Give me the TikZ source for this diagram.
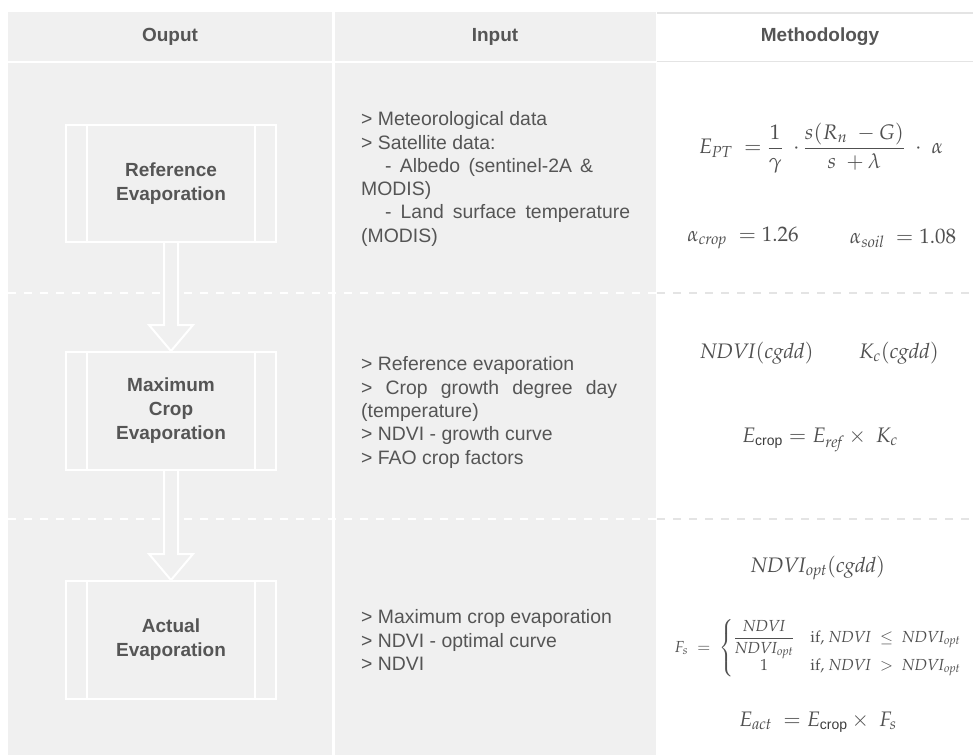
\documentclass[tikz,border=0pt]{standalone}
\usepackage{amsmath}
\usepackage{mathpazo}
\usepackage[no-math]{fontspec}
\setmainfont{Liberation Sans}
\usetikzlibrary{calc}
\definecolor{cellgray}{HTML}{F0F0F0}
\definecolor{txt}{HTML}{555555}
\definecolor{mathc}{HTML}{505050}
\definecolor{rulec}{HTML}{E4E4E4}
\definecolor{subc}{HTML}{3C3C3C}
\newcommand{\cropsub}[1]{\hbox{\fontsize{#1}{#1}\selectfont\color{subc}crop}}
\newcommand{\ndvi}{\mathit{NDVI}}
\begin{document}
\begin{tikzpicture}[x=1bp,y=-1bp,
  hdr/.style={font={\fontsize{19bp}{23bp}\selectfont\bfseries}, text=txt, inner sep=0pt},
  lbl/.style={font={\fontsize{19bp}{24bp}\selectfont\bfseries}, text=txt, align=center},
  inp/.style={font={\fontsize{19.4bp}{23.3bp}\selectfont}, text=txt, align=left, anchor=west, inner sep=0pt},
  procbox/.style={draw=white, line width=2bp, minimum width=210bp, inner sep=0pt},
  innerline/.style={draw=white, line width=2bp},
  blockarrow/.style={draw=white, line width=2bp, fill=cellgray, line join=miter},
  rowline/.style={line width=2bp, dash pattern=on 8bp off 8bp},
  mth/.style={text=mathc, inner sep=0pt, font={\fontsize{21bp}{25bp}\selectfont}},
  mths/.style={text=mathc, inner sep=0pt, font={\fontsize{16bp}{19bp}\selectfont}}
]
\useasboundingbox (0,0) rectangle (973,755);
\fill[white] (0,0) rectangle (973,755);

% header
\fill[cellgray] (8,12) rectangle (332,61);
\fill[cellgray] (335,12) rectangle (656,61);
\draw[rulec, line width=1.5bp] (657,13) -- (973,13);
\draw[rulec, line width=1.5bp] (657,61.5) -- (973,61.5);
\node[hdr] (h1) at (170,37) {Ouput};
\node[hdr] (h2) at (495,37) {Input};
\node[hdr] (h3) at (820,37) {Methodology};

% body columns
\fill[cellgray] (8,63) rectangle (332,755);
\fill[cellgray] (335,63) rectangle (656,755);

% row separators
\draw[rowline, draw=white] (8,293) -- (656,293);
\draw[rowline, draw=rulec] (657,293) -- (973,293);
\draw[rowline, draw=white] (8,519) -- (656,519);
\draw[rowline, draw=rulec] (657,519) -- (973,519);

% output boxes
\node[procbox, minimum height=117bp] (b1) at (171,183.5) {};
\node[procbox, minimum height=118bp] (b2) at (171,411) {};
\node[procbox, minimum height=118bp] (b3) at (171,640) {};
\foreach \b in {b1,b2,b3}{
  \draw[innerline] ($(\b.north west)+(22,0)$) -- ($(\b.south west)+(22,0)$);
  \draw[innerline] ($(\b.north east)+(-22,0)$) -- ($(\b.south east)+(-22,0)$);
}
\node[lbl] (l1) at (b1) {Reference\\Evaporation};
\node[lbl] (l2) at (b2) {Maximum\\Crop\\Evaporation};
\node[lbl] (l3) at (b3) {Actual\\Evaporation};

% block arrows
\draw[blockarrow] ($(b1.south)+(-7,0)$) -- ($(b2.north)+(-7,-26)$) -- ($(b2.north)+(-22,-26)$)
  -- (b2.north) -- ($(b2.north)+(22,-26)$) -- ($(b2.north)+(7,-26)$) -- ($(b1.south)+(7,0)$);
\draw[blockarrow] ($(b2.south)+(-7,0)$) -- ($(b3.north)+(-7,-26)$) -- ($(b3.north)+(-22,-26)$)
  -- (b3.north) -- ($(b3.north)+(22,-26)$) -- ($(b3.north)+(7,-26)$) -- ($(b2.south)+(7,0)$);

% inputs
\node[inp] (in1) at (361,179) {> Meteorological data\\
> Satellite data:\\
\makebox[232bp][s]{\hspace*{24bp}- Albedo (sentinel-2A \&}\\
MODIS)\\
\makebox[269bp][s]{\hspace*{24bp}- Land surface temperature}\\
(MODIS)};
\node[inp] (in2) at (361,412.5) {> Reference evaporation\\
\makebox[256bp][s]{> Crop growth degree day}\\
(temperature)\\
> NDVI - growth curve\\
> FAO crop factors};
\node[inp] (in3) at (361,640) {> Maximum crop evaporation\\
> NDVI - optimal curve\\
> NDVI};

% methodology
\node[mth] (m1) at (821,148) {$\displaystyle E_{\mathit{PT}}\;=\frac{1}{\gamma}\;\cdot\frac{s(R_n\;-G)}{s\;+\lambda}\;\cdot\;\alpha$};
\node[mth] (m2) at (743,238) {$\alpha_{\mathit{crop}}\;=1.26$};
\node[mth] (m3) at (903,238) {$\alpha_{\mathit{soil}}\;=1.08$};
\node[mth] (m4) at (757,353) {$\ndvi(\mathit{cgdd})$};
\node[mth] (m5) at (899,353) {$K_c(\mathit{cgdd})$};
\node[mth] (m6) at (820,440) {$E_{\cropsub{14bp}}=E_{\mathit{ref}}\times\;K_c$};
\node[mth] (m7) at (818,568) {$\ndvi_{\mathit{opt}}(\mathit{cgdd})$};
\node[mths] (m8) at (818,648) {$F_s\;=\;\left\{\renewcommand{\arraystretch}{1.0}\begin{array}{@{}c@{\quad}l@{}}
 \dfrac{\ndvi}{\ndvi_{\mathit{opt}}} & \mathrm{if,}\;\ndvi\;\le\;\ndvi_{\mathit{opt}}\\[-2bp]
 1 & \mathrm{if,}\;\ndvi\;>\;\ndvi_{\mathit{opt}}\end{array}\right.$};
\node[mth] (m9) at (818,722) {$E_{\mathit{act}}\;=E_{\cropsub{14bp}}\times\;F_s$};
\end{tikzpicture}
\end{document}
